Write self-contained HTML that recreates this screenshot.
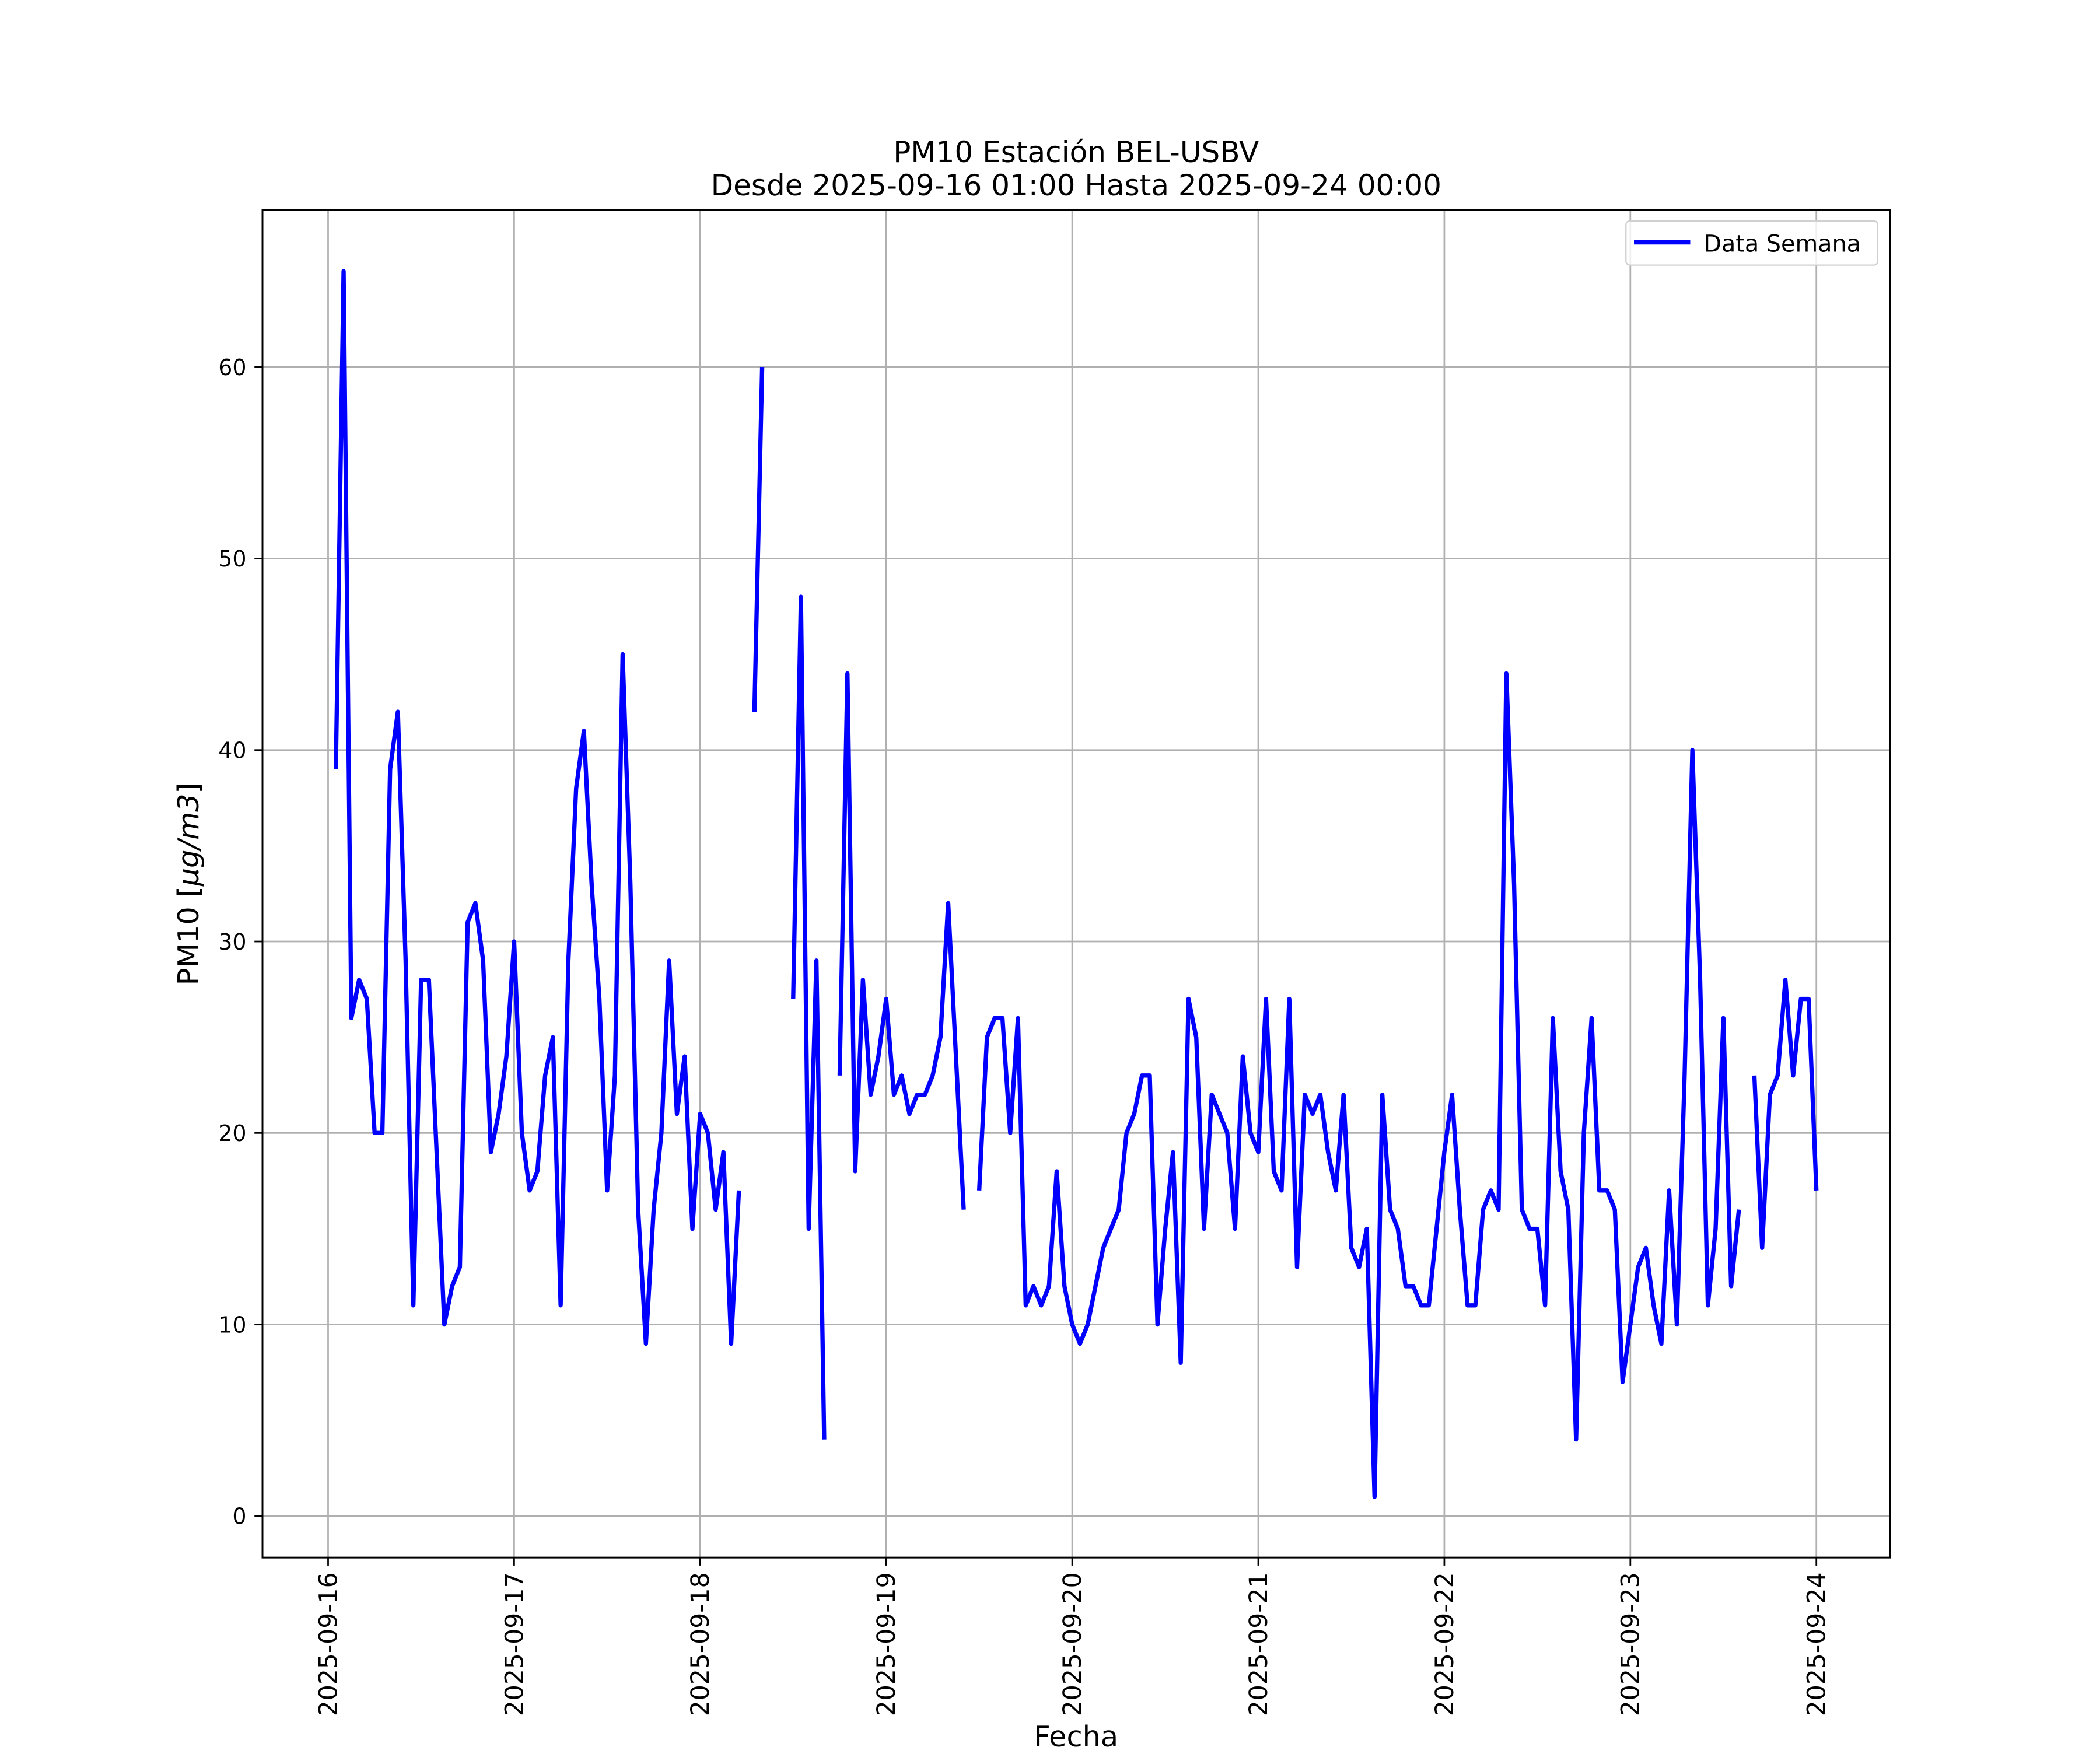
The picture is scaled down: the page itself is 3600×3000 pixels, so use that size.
<!DOCTYPE html>
<html><head><meta charset="utf-8"><style>
html,body{margin:0;padding:0;background:#fff;}
svg{display:block;}
text{font-family:"DejaVu Sans","Liberation Sans",sans-serif;fill:#000;}
</style></head><body>
<svg id="chart" xmlns="http://www.w3.org/2000/svg" width="3600" height="3000" viewBox="0 0 1568 1306.67">
<rect x="0" y="0" width="1568" height="1306.67" fill="#fff"/>
<g id="grid"></g>
<g id="series"></g>
<rect x="196" y="157" width="1215" height="1006" fill="none" stroke="#000" stroke-width="1.3"/>
<g id="axes"></g>
<text x="803.5" y="121" font-size="21.8" text-anchor="middle">PM10 Estación BEL-USBV</text>
<text x="803.5" y="146" font-size="21.8" text-anchor="middle">Desde 2025-09-16 01:00 Hasta 2025-09-24 00:00</text>
<text x="803.5" y="1304" font-size="21.5" text-anchor="middle">Fecha</text>
<text transform="translate(148,660) rotate(-90)" font-size="21.5" text-anchor="middle">PM10 [<tspan font-style="italic">μg/m3</tspan>]</text>
<g>
<rect x="1214" y="165" width="188" height="33" rx="3" fill="#fff" fill-opacity="0.8" stroke="#d0d0d0" stroke-width="1"/>
<line x1="1220" y1="181" x2="1262" y2="181" stroke="#0000ff" stroke-width="3.2"/>
<text x="1272" y="188" font-size="17.3">Data Semana</text>
</g>
</svg>
<script>
// Hourly PM10 values starting 2025-09-16 01:00 (null = missing)
const startHour = 1;
const pm10Values = [
39,65,26,28,27,20,20,39,42,29,11,28,28,19,10,12,13,31,32,29,19,21,24,30,
20,17,18,23,25,11,29,38,41,33,27,17,23,45,33,16,9,16,20,29,21,24,15,21,
20,16,19,9,17,null,42,60,null,null,null,27,48,15,29,4,null,23,44,18,28,22,24,27,
22,23,21,22,22,23,25,32,24,16,null,17,25,26,26,20,26,11,12,11,12,18,12,10,
9,10,12,14,15,16,20,21,23,23,10,15,19,8,27,25,15,22,21,20,15,24,20,19,
27,18,17,27,13,22,21,22,19,17,22,14,13,15,1,22,16,15,12,12,11,11,15,19,
22,16,11,11,16,17,16,44,33,16,15,15,11,26,18,16,4,20,26,17,17,16,7,10,
13,14,11,9,17,10,23,40,28,11,15,26,12,16,null,23,14,22,23,28,23,27,27,17
];
const xTickLabels = ["2025-09-16","2025-09-17","2025-09-18","2025-09-19","2025-09-20","2025-09-21","2025-09-22","2025-09-23","2025-09-24"];
const yTickValues = [0,10,20,30,40,50,60];

const NS = "http://www.w3.org/2000/svg";
const X0 = 245, DAYPX = 138.9, Y0 = 1132, UNITPX = 14.3;
function xScale(hour){ return X0 + hour * DAYPX / 24; }
function yScale(v){ return Y0 - v * UNITPX; }
function mk(tag, attrs){ const e = document.createElementNS(NS, tag); for (const k in attrs) e.setAttribute(k, attrs[k]); return e; }

const grid = document.getElementById('grid');
const axes = document.getElementById('axes');
xTickLabels.forEach((lab, i) => {
  const x = xScale(i * 24);
  const g = mk('line', {x1:x, y1:157, x2:x, y2:1163, stroke:'#b0b0b0', 'stroke-width':1.2});
  
  
  grid.appendChild(g);
  const t = mk('line', {x1:x, y1:1163, x2:x, y2:1169, stroke:'#000', 'stroke-width':1.2});
  
  
  axes.appendChild(t);
  const tx = mk('text', {transform:`translate(${x+6.5},1174) rotate(-90)`, 'font-size':18.5, 'text-anchor':'end'});
  tx.textContent = lab;
  
  
  axes.appendChild(tx);
});
yTickValues.forEach(v => {
  const y = yScale(v);
  const g = mk('line', {x1:196, y1:y, x2:1411, y2:y, stroke:'#b0b0b0', 'stroke-width':1.2});
  
  
  grid.appendChild(g);
  const t = mk('line', {x1:190, y1:y, x2:196, y2:y, stroke:'#000', 'stroke-width':1.2});
  
  
  axes.appendChild(t);
  const tx = mk('text', {x:184, y:y+6, 'font-size':16.5, 'text-anchor':'end'});
  tx.textContent = v;
  
  
  axes.appendChild(tx);
});

let d = '', pen = false;
pm10Values.forEach((v, i) => {
  if (v === null) { pen = false; return; }
  const x = xScale(startHour + i).toFixed(2), y = yScale(v).toFixed(2);
  d += (pen ? 'L' : 'M') + x + ' ' + y + ' ';
  pen = true;
});
const path = mk('path', {d:d, fill:'none', stroke:'#0000ff', 'stroke-width':3.2, 'stroke-linejoin':'round'});


document.getElementById('series').appendChild(path);
</script>
</body></html>
